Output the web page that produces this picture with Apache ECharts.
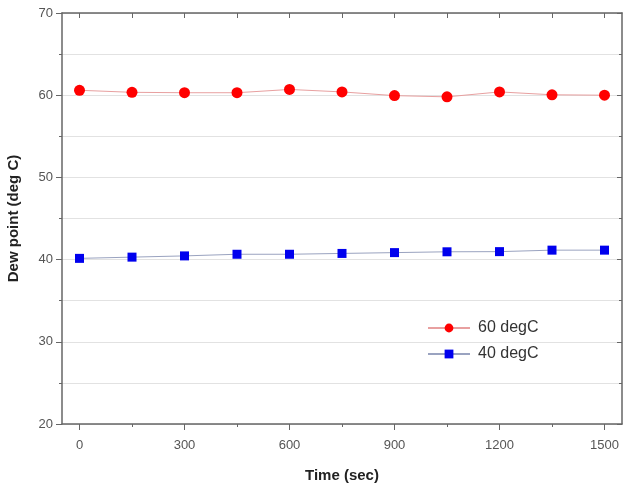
<!DOCTYPE html>
<html>
<head>
<meta charset="utf-8">
<script src="https://cdn.jsdelivr.net/npm/echarts@6/dist/echarts.min.js"></script>
<style>html,body{margin:0;padding:0;background:#fff;}#c{width:628px;height:483px;}</style>
</head>
<body>
<div id="c"></div>
<script>
const times = [0, 150, 300, 450, 600, 750, 900, 1050, 1200, 1350, 1500];
const dew60 = [60.6, 60.35, 60.3, 60.3, 60.7, 60.4, 59.95, 59.8, 60.4, 60.05, 60.0];
const dew40 = [40.15, 40.3, 40.45, 40.65, 40.65, 40.75, 40.85, 40.95, 40.97, 41.15, 41.15];
const xLabelTicks = [0, 300, 600, 900, 1200, 1500];
const xMinorTicks = [150, 450, 750, 1050, 1350];
const seriesNames = ['60 degC', '40 degC'];

const axisColor = '#666';
const font = 'Liberation Sans, Arial, sans-serif';
const chart = echarts.init(document.getElementById('c'));
chart.setOption({
  animation: false,
  backgroundColor: '#fff',
  grid: { left: 62, right: 6, top: 13, bottom: 59, outerBoundsMode: 'none', containLabel: false },
  legend: {
    orient: 'vertical', left: 422, top: 315, itemGap: 10,
    itemWidth: 42, itemHeight: 11,
    textStyle: { fontSize: 16, color: '#333', fontFamily: font, padding: [0,0,0,3] },
    data: seriesNames
  },
  xAxis: [
    {
      type: 'value', position: 'bottom', min: -50, max: 1550,
      name: 'Time (sec)', nameLocation: 'middle', nameGap: 44,
      nameTextStyle: { fontSize: 15, fontWeight: 'bold', color: '#222', fontFamily: font },
      axisLine: { show: true, onZero: false, lineStyle: { color: axisColor, width: 1.5 } },
      axisTick: { show: true, length: 6, customValues: xLabelTicks, lineStyle: { color: axisColor } },
      axisLabel: { customValues: xLabelTicks, margin: 15, fontSize: 13, color: '#555', fontFamily: font,
                   formatter: v => String(v) },
      splitLine: { show: false }
    },
    {
      type: 'value', position: 'bottom', min: -50, max: 1550,
      axisLine: { show: false, onZero: false },
      axisTick: { show: true, length: 3, customValues: xMinorTicks, lineStyle: { color: axisColor } },
      axisLabel: { show: false },
      splitLine: { show: false }
    },
    {
      type: 'value', position: 'top', min: -50, max: 1550,
      axisLine: { show: true, onZero: false, lineStyle: { color: axisColor, width: 1.5 } },
      axisTick: { show: true, inside: true, length: 5, customValues: times, lineStyle: { color: axisColor } },
      axisLabel: { show: false },
      splitLine: { show: false }
    }
  ],
  yAxis: [
    {
      type: 'value', position: 'left', min: 20, max: 70, interval: 10,
      name: 'Dew point (deg C)', nameLocation: 'middle', nameGap: 41,
      nameTextStyle: { fontSize: 15, fontWeight: 'bold', color: '#222', fontFamily: font },
      axisLine: { show: true, onZero: false, lineStyle: { color: axisColor, width: 1.5 } },
      axisTick: { show: true, length: 6, lineStyle: { color: axisColor } },
      minorTick: { show: true, splitNumber: 2, length: 3, lineStyle: { color: axisColor } },
      axisLabel: { margin: 9, fontSize: 13, color: '#555', fontFamily: font },
      splitLine: { show: true, lineStyle: { color: '#e2e2e2', width: 1 } },
      minorSplitLine: { show: true, lineStyle: { color: '#e2e2e2', width: 1 } }
    },
    {
      type: 'value', position: 'right', min: 20, max: 70, interval: 10,
      axisLine: { show: true, onZero: false, lineStyle: { color: axisColor, width: 1.5 } },
      axisTick: { show: true, inside: true, length: 5, lineStyle: { color: axisColor } },
      minorTick: { show: true, splitNumber: 2, length: 3, lineStyle: { color: axisColor } },
      axisLabel: { show: false },
      splitLine: { show: false }
    }
  ],
  series: [
    {
      name: seriesNames[0], type: 'line', xAxisIndex: 0, yAxisIndex: 0,
      data: times.map((t, i) => [t, dew60[i]]),
      symbol: 'circle', symbolSize: 11,
      itemStyle: { color: '#ff0000' },
      lineStyle: { color: '#e8a0a0', width: 1 }
    },
    {
      name: seriesNames[1], type: 'line', xAxisIndex: 0, yAxisIndex: 0,
      data: times.map((t, i) => [t, dew40[i]]),
      symbol: 'rect', symbolSize: 9,
      itemStyle: { color: '#0000ee' },
      lineStyle: { color: '#9aa3c0', width: 1 }
    }
  ]
});
</script>
</body>
</html>
